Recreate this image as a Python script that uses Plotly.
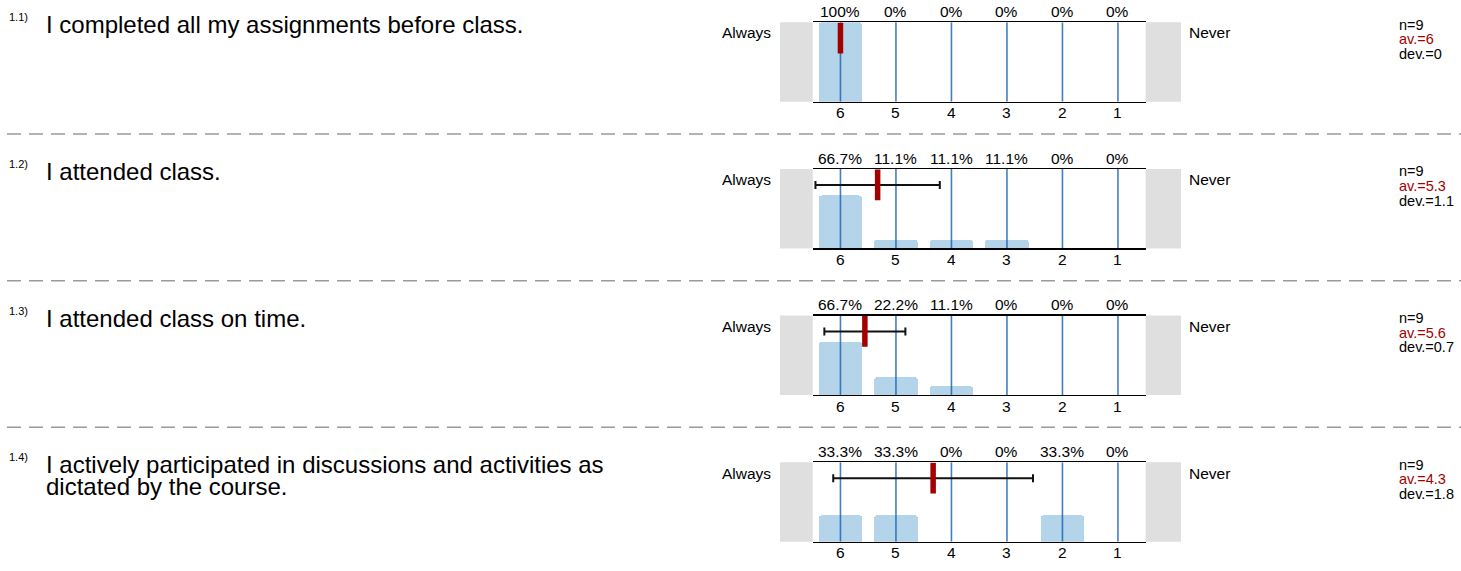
import plotly.graph_objects as go

# ---------------- data ----------------
categories = [6, 5, 4, 3, 2, 1]
question_numbers = ["1.1)", "1.2)", "1.3)", "1.4)"]
question_lines = [
    ["I completed all my assignments before class."],
    ["I attended class."],
    ["I attended class on time."],
    ["I actively participated in discussions and activities as",
     "dictated by the course."],
]
percentages = [
    [100, 0, 0, 0, 0, 0],
    [66.7, 11.1, 11.1, 11.1, 0, 0],
    [66.7, 22.2, 11.1, 0, 0, 0],
    [33.3, 33.3, 0, 0, 33.3, 0],
]
means = [6.0, 5.33, 5.56, 4.33]
devs = [0.0, 1.12, 0.73, 1.80]
n_values = [9, 9, 9, 9]
mean_labels = ["6", "5.3", "5.6", "4.3"]
dev_labels = ["0", "1.1", "0.7", "1.8"]
left_label = "Always"
right_label = "Never"

# ---------------- geometry (pixels) ----------------
W, H = 1461, 571
PX0, PX1 = 812.7, 1145.7
panel_tops = [22.3, 169.0, 315.5, 462.3]
PH = 79.4
FONT = "Liberation Sans, Arial, Helvetica, sans-serif"
SMALL = 15.5

def px(x):
    return x / W

def py(y):
    return 1 - y / H

fig = go.Figure()
shapes = []
annotations = []

for i in range(4):
    n = i + 1
    xa = "x" if n == 1 else f"x{n}"
    ya = "y" if n == 1 else f"y{n}"
    top = panel_tops[i]
    bot = top + PH

    # bars
    fig.add_trace(go.Bar(
        x=categories, y=percentages[i], xaxis=xa, yaxis=ya,
        width=0.79, marker=dict(color="#b4d4ea", cornerradius=4, line=dict(width=0)),
        hoverinfo="skip", showlegend=False))

    # vertical category lines
    lx, ly = [], []
    for c in categories:
        lx += [c, c, None]
        ly += [0, 100, None]
    fig.add_trace(go.Scatter(
        x=lx, y=ly, xaxis=xa, yaxis=ya, mode="lines",
        line=dict(color="rgba(20,95,175,0.8)", width=1.6),
        hoverinfo="skip", showlegend=False))

    # deviation bar
    if devs[i] > 0:
        fig.add_trace(go.Scatter(
            x=[means[i]], y=[80], xaxis=xa, yaxis=ya, mode="markers",
            marker=dict(size=1, opacity=0),
            error_x=dict(type="data", array=[devs[i]], color="#111111",
                         thickness=2, width=4),
            hoverinfo="skip", showlegend=False))

    # mean marker
    fig.add_trace(go.Scatter(
        x=[means[i]], y=[80], xaxis=xa, yaxis=ya, mode="markers",
        marker=dict(symbol="line-ns", size=22, color="#a30000",
                    line=dict(width=5.5, color="#a30000")),
        hoverinfo="skip", showlegend=False))

    xkey = "xaxis" if n == 1 else f"xaxis{n}"
    ykey = "yaxis" if n == 1 else f"yaxis{n}"
    fig.update_layout(**{
        xkey: dict(domain=[px(PX0), px(PX1)], range=[6.5, 0.5], anchor=ya,
                   tickvals=categories, showticklabels=False,
                   showgrid=False, zeroline=False, showline=True, mirror=True,
                   linecolor="#000000", linewidth=1.5, ticks="",
                   fixedrange=True),
        ykey: dict(domain=[py(bot), py(top)], range=[0, 100], anchor=xa,
                   visible=False, fixedrange=True),
    })

    # grey side boxes
    shapes.append(dict(type="rect", xref="paper", yref="paper",
                       x0=px(780), x1=px(PX0), y0=py(bot), y1=py(top),
                       fillcolor="#dfdfdf", line=dict(width=0), layer="below"))
    shapes.append(dict(type="rect", xref="paper", yref="paper",
                       x0=px(PX1), x1=px(1181), y0=py(bot), y1=py(top),
                       fillcolor="#dfdfdf", line=dict(width=0), layer="below"))

    # percentage labels (top) and category labels (bottom)
    for c, p in zip(categories, percentages[i]):
        annotations.append(dict(x=c, xref=xa, y=py(top - 10.8), yref="paper",
                                text=f"{p:g}%", showarrow=False, xanchor="center",
                                yanchor="middle",
                                font=dict(size=SMALL, color="#000000", family=FONT)))
        annotations.append(dict(x=c, xref=xa, y=py(bot + 11.2), yref="paper",
                                text=str(c), showarrow=False, xanchor="center",
                                yanchor="middle",
                                font=dict(size=SMALL, color="#000000", family=FONT)))

    # Always / Never
    annotations.append(dict(x=px(773), xref="paper", y=py(top + 10.7), yref="paper",
                            text=left_label, showarrow=False, xanchor="right",
                            yanchor="middle",
                            font=dict(size=SMALL, color="#000000", family=FONT)))
    annotations.append(dict(x=px(1186.5), xref="paper", y=py(top + 10.7), yref="paper",
                            text=right_label, showarrow=False, xanchor="left",
                            yanchor="middle",
                            font=dict(size=SMALL, color="#000000", family=FONT)))

    # question number and text
    annotations.append(dict(x=px(7), xref="paper", y=py(top - 5), yref="paper",
                            text=question_numbers[i], showarrow=False, xanchor="left",
                            yanchor="middle",
                            font=dict(size=11, color="#000000", family=FONT)))
    for k, line in enumerate(question_lines[i]):
        annotations.append(dict(x=px(44), xref="paper", y=py(top + 2.5 + 22 * k),
                                yref="paper", text=line, showarrow=False,
                                xanchor="left", yanchor="middle",
                                font=dict(size=24, color="#000000", family=FONT)))

    # statistics
    stats = [(f"n={n_values[i]}", "#000000", 2.5),
             (f"av.={mean_labels[i]}", "#a30000", 17.0),
             (f"dev.={dev_labels[i]}", "#000000", 31.5)]
    for txt, col, dy in stats:
        annotations.append(dict(x=px(1396.5), xref="paper", y=py(top + dy), yref="paper",
                                text=txt, showarrow=False, xanchor="left",
                                yanchor="middle",
                                font=dict(size=SMALL - 1, color=col, family=FONT)))

# dashed separators
for yy in [134.0, 280.7, 427.3]:
    shapes.append(dict(type="line", xref="paper", yref="paper",
                       x0=px(7), x1=1, y0=py(yy), y1=py(yy),
                       line=dict(color="#9a9a9a", width=1.5, dash="14px,8px")))

fig.update_layout(
    width=W, height=H,
    margin=dict(l=0, r=0, t=0, b=0),
    paper_bgcolor="white", plot_bgcolor="rgba(0,0,0,0)",
    bargap=0, barmode="overlay",
    shapes=shapes, annotations=annotations,
    font=dict(family=FONT, color="#000000"),
    showlegend=False,
)

fig.write_html(
    "out.html",
    config={"displayModeBar": False, "staticPlot": True},
    post_script="document.body.style.margin='0';document.body.style.padding='0';"
                "document.body.style.overflow='hidden';",
)
